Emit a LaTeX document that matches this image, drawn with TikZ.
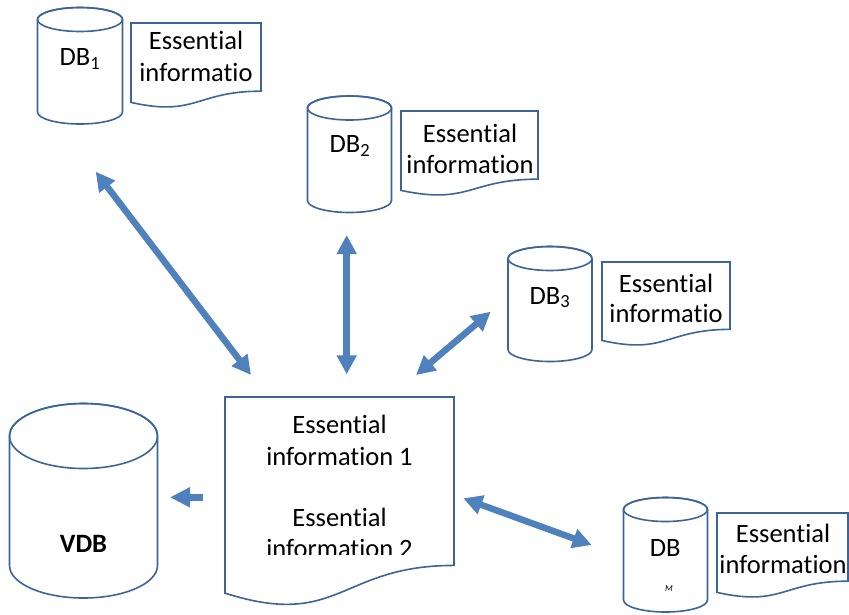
\documentclass[tikz,border=0pt]{standalone}
\usepackage{fontspec}
\setmainfont[Ligatures=NoCommon]{Carlito}
\usetikzlibrary{arrows.meta}
\definecolor{outl}{RGB}{60,100,155}
\definecolor{arrc}{RGB}{79,129,189}
\tikzset{
  shapeline/.style={draw=outl, line width=1.6pt, fill=white},
  txt/.style={anchor=base, inner sep=0pt, font=\fontsize{26.5}{32}\selectfont},
  dblink/.style={arrc, line width=6.5pt, {Triangle[length=19pt,width=19pt]}-{Triangle[length=19pt,width=19pt]}},
  onelink/.style={arrc, line width=6.5pt, -{Triangle[length=20pt,width=19pt]}},
}
% cylinder: left x, top y, width, height, ellipse y radius (pixel coords, y downwards)
\newcommand{\dbcyl}[5]{%
  \pgfmathsetmacro\cxl{#1}\pgfmathsetmacro\cxr{#1+#3}%
  \pgfmathsetmacro\crx{#3/2}\pgfmathsetmacro\cxm{#1+#3/2}%
  \pgfmathsetmacro\cyt{-(#2)-(#5)}\pgfmathsetmacro\cyb{-(#2)-(#4)+(#5)}%
  \path[shapeline] (\cxl,\cyt) -- (\cxl,\cyb)
     arc[start angle=180,end angle=360,x radius=\crx,y radius=#5] -- (\cxr,\cyt)
     arc[start angle=0,end angle=180,x radius=\crx,y radius=#5] -- cycle;
  \path[shapeline, fill=none] (\cxm,\cyt) ellipse[x radius=\crx,y radius=#5];}
% document shape: left x, top y, width, height
\newcommand{\docshape}[4]{%
  \pgfmathsetmacro\dxl{#1}\pgfmathsetmacro\dxr{#1+#3}\pgfmathsetmacro\dxm{#1+#3/2}%
  \pgfmathsetmacro\dyt{-(#2)}\pgfmathsetmacro\dyr{-(#2)-0.802*(#4)}%
  \pgfmathsetmacro\dyc{-(#2)-1.1075*(#4)}\pgfmathsetmacro\dyl{-(#2)-0.934*(#4)}%
  \path[shapeline] (\dxl,\dyt) -- (\dxr,\dyt) -- (\dxr,\dyr)
     .. controls (\dxm,\dyr) and (\dxm,\dyc) .. (\dxl,\dyl) -- cycle;}
\begin{document}
\begin{tikzpicture}[x=1pt,y=1pt]
\useasboundingbox[fill=white] (0,0) rectangle (849,-614);

% cylinders
\dbcyl{37.5}{7.5}{85}{116.5}{12}
\dbcyl{307.5}{96}{84}{116.5}{12}
\dbcyl{508}{246.5}{84}{115}{12}
\dbcyl{623.5}{497.5}{84}{114.5}{12}
\dbcyl{9.5}{403.5}{148}{194.5}{32.5}

% documents
\docshape{131}{23}{130}{85}
\docshape{401}{111}{137}{85}
\docshape{602}{262}{128}{84}
\docshape{717}{513}{131}{85}
\docshape{225}{397}{229}{210}

% cylinder labels
\node[txt] (db1) at (80,-65.7) {DB\textsubscript{1}};
\node[txt] (db2) at (350,-152.7) {DB\textsubscript{2}};
\node[txt] (db3) at (550,-304) {DB\textsubscript{3}};
\node[txt] (dbm) at (665.3,-556) {DB};
\node[anchor=base, inner sep=0pt, font=\fontsize{9}{9}\selectfont\itshape] (dbmsub) at (669,-591.7) {M};
\node[txt, font=\fontsize{26.5}{32}\selectfont\bfseries] (vdb) at (83.5,-552.3) {VDB};

% document texts
\node[txt] (e1a) at (196,-49.5) {Essential};
\node[txt] (e1b) at (196,-81.7) {informatio};
\node[txt] (e2a) at (470,-142.5) {Essential};
\node[txt] (e2b) at (470,-173) {information};
\node[txt] (e3a) at (666,-292) {Essential};
\node[txt] (e3b) at (666,-322.7) {informatio};
\node[txt] (ema) at (783,-542.7) {Essential};
\node[txt] (emb) at (783,-573) {information};
\node[txt] (c1a) at (339.5,-433.3) {Essential};
\node[txt] (c1b) at (339.5,-465) {information 1};
\node[txt] (c2a) at (339.5,-526) {Essential};
\begin{scope}
  \clip (225,-397) rectangle (454,-554.5);
  \node[txt] (c2b) at (339.5,-557.7) {information 2};
\end{scope}

% arrow end points
\coordinate (a1s) at (95.7,-171.7);
\coordinate (a1e) at (251,-375);
\coordinate (a2s) at (346.7,-235);
\coordinate (a2e) at (346.7,-374.3);
\coordinate (a3s) at (490.7,-311.7);
\coordinate (a3e) at (416,-375);
\coordinate (a4s) at (202.7,-497.3);
\coordinate (a4e) at (170,-497.3);
\coordinate (a5s) at (463.3,-498.3);
\coordinate (a5e) at (591.7,-545);

\draw[dblink] (a1s) -- (a1e);
\draw[dblink] (a2s) -- (a2e);
\draw[dblink] (a3s) -- (a3e);
\draw[onelink] (a4s) -- (a4e);
\draw[dblink] (a5s) -- (a5e);
\end{tikzpicture}
\end{document}
